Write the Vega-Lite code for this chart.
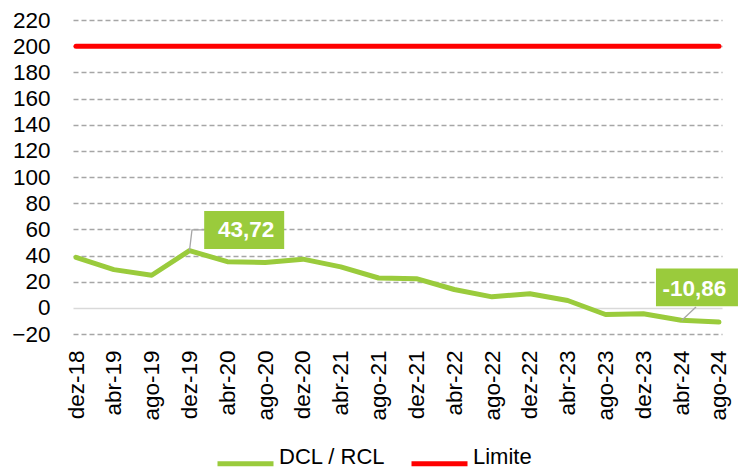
{
  "$schema": "https://vega.github.io/schema/vega-lite/v6.json",
  "width": 649,
  "height": 314,
  "autosize": {"type": "none"},
  "padding": {"left": 73, "top": 20, "right": 16, "bottom": 136},
  "background": "white",
  "config": {"view": {"stroke": null}, "font": "Liberation Sans"},
  "datasets": {
    "serie": [
      {"mes": "dez-18", "serie": "DCL / RCL", "valor": 38.6},
      {"mes": "abr-19", "serie": "DCL / RCL", "valor": 29.2},
      {"mes": "ago-19", "serie": "DCL / RCL", "valor": 24.9},
      {"mes": "dez-19", "serie": "DCL / RCL", "valor": 43.72},
      {"mes": "abr-20", "serie": "DCL / RCL", "valor": 35.3},
      {"mes": "ago-20", "serie": "DCL / RCL", "valor": 34.6},
      {"mes": "dez-20", "serie": "DCL / RCL", "valor": 37.2},
      {"mes": "abr-21", "serie": "DCL / RCL", "valor": 31.3},
      {"mes": "ago-21", "serie": "DCL / RCL", "valor": 22.8},
      {"mes": "dez-21", "serie": "DCL / RCL", "valor": 22.3},
      {"mes": "abr-22", "serie": "DCL / RCL", "valor": 14.0},
      {"mes": "ago-22", "serie": "DCL / RCL", "valor": 8.4},
      {"mes": "dez-22", "serie": "DCL / RCL", "valor": 10.8},
      {"mes": "abr-23", "serie": "DCL / RCL", "valor": 5.6},
      {"mes": "ago-23", "serie": "DCL / RCL", "valor": -5.1},
      {"mes": "dez-23", "serie": "DCL / RCL", "valor": -4.5},
      {"mes": "abr-24", "serie": "DCL / RCL", "valor": -9.5},
      {"mes": "ago-24", "serie": "DCL / RCL", "valor": -10.86},
      {"mes": "dez-18", "serie": "Limite", "valor": 200},
      {"mes": "abr-19", "serie": "Limite", "valor": 200},
      {"mes": "ago-19", "serie": "Limite", "valor": 200},
      {"mes": "dez-19", "serie": "Limite", "valor": 200},
      {"mes": "abr-20", "serie": "Limite", "valor": 200},
      {"mes": "ago-20", "serie": "Limite", "valor": 200},
      {"mes": "dez-20", "serie": "Limite", "valor": 200},
      {"mes": "abr-21", "serie": "Limite", "valor": 200},
      {"mes": "ago-21", "serie": "Limite", "valor": 200},
      {"mes": "dez-21", "serie": "Limite", "valor": 200},
      {"mes": "abr-22", "serie": "Limite", "valor": 200},
      {"mes": "ago-22", "serie": "Limite", "valor": 200},
      {"mes": "dez-22", "serie": "Limite", "valor": 200},
      {"mes": "abr-23", "serie": "Limite", "valor": 200},
      {"mes": "ago-23", "serie": "Limite", "valor": 200},
      {"mes": "dez-23", "serie": "Limite", "valor": 200},
      {"mes": "abr-24", "serie": "Limite", "valor": 200},
      {"mes": "ago-24", "serie": "Limite", "valor": 200}
    ],
    "rotulos": [
      {"mes": "dez-19", "valor": 43.72, "rotulo": "43,72", "id": "a"},
      {"mes": "ago-24", "valor": -10.86, "rotulo": "-10,86", "id": "b"}
    ]
  },
  "encoding": {
    "x": {
      "field": "mes", "type": "ordinal",
      "sort": ["dez-18","abr-19","ago-19","dez-19","abr-20","ago-20","dez-20","abr-21","ago-21","dez-21","abr-22","ago-22","dez-22","abr-23","ago-23","dez-23","abr-24","ago-24"],
      "scale": {"type": "point", "padding": 0.08},
      "axis": {"title": null, "labelAngle": -90, "labelPadding": 16, "labelFontSize": 22.5, "labelColor": "#000000", "ticks": false, "domain": false, "grid": false, "labelFont": "Liberation Sans"}
    },
    "y": {
      "field": "valor", "type": "quantitative",
      "scale": {"domain": [-20, 220], "nice": false, "zero": false},
      "axis": {
        "title": null, "values": [-20,0,20,40,60,80,100,120,140,160,180,200,220],
        "labelFontSize": 22.5, "labelColor": "#000000", "labelPadding": 23, "ticks": false, "domain": false,
        "labelFont": "Liberation Sans",
        "grid": true, "gridWidth": 1.3,
        "gridColor": {"condition": {"test": "datum.value === 0", "value": "#D9D9D9"}, "value": "#A6A6A6"},
        "gridDash": {"condition": {"test": "datum.value === 0", "value": []}, "value": [5, 3]}
      }
    }
  },
  "layer": [
    {
      "data": {"name": "serie"},
      "mark": {"type": "line", "strokeWidth": 5, "strokeCap": "round", "strokeJoin": "round"},
      "encoding": {
        "color": {
          "field": "serie", "type": "nominal",
          "scale": {"domain": ["DCL / RCL", "Limite"], "range": ["#9ACB3C", "#FF0000"]},
          "legend": {
            "title": null, "orient": "none", "legendX": 142, "legendY": 413, "direction": "horizontal",
            "symbolType": "stroke", "symbolSize": 3136, "symbolStrokeWidth": 5,
            "labelFontSize": 22, "labelColor": "#000000", "labelOffset": 3, "columnPadding": 15,
            "labelBaseline": "alphabetic",
            "labelFont": "Liberation Sans"
          }
        }
      }
    },
    {
      "data": {"name": "rotulos"},
      "transform": [{"filter": "datum.id === 'a'"}],
      "layer": [
        {"mark": {"type": "point", "shape": "M0,0L2.5,-20.7L14.7,-20.7", "size": 4, "filled": false, "stroke": "#A6A6A6", "strokeWidth": 1.3, "opacity": 1}},
        {"mark": {"type": "point", "shape": "M14.7,-39.7L94.7,-39.7L94.7,-1.7L14.7,-1.7Z", "size": 4, "filled": true, "fill": "#9ACB3C", "strokeWidth": 0, "opacity": 1}},
        {"mark": {"type": "text", "dx": 56.7, "dy": -20.7, "align": "center", "baseline": "middle", "font": "Liberation Sans", "fontWeight": "bold", "fontSize": 22.5, "color": "#FFFFFF"}, "encoding": {"text": {"field": "rotulo"}}}
      ]
    },
    {
      "data": {"name": "rotulos"},
      "transform": [{"filter": "datum.id === 'b'"}],
      "layer": [
        {"mark": {"type": "point", "shape": "M-37.3,-1.5L-23,-15", "size": 4, "filled": false, "stroke": "#A6A6A6", "strokeWidth": 1.3, "opacity": 1}},
        {"mark": {"type": "point", "shape": "M-63,-53.5L19,-53.5L19,-15.8L-63,-15.8Z", "size": 4, "filled": true, "fill": "#9ACB3C", "strokeWidth": 0, "opacity": 1}},
        {"mark": {"type": "text", "dx": -24.5, "dy": -33.5, "align": "center", "baseline": "middle", "font": "Liberation Sans", "fontWeight": "bold", "fontSize": 22.5, "color": "#FFFFFF"}, "encoding": {"text": {"field": "rotulo"}}}
      ]
    }
  ]
}
